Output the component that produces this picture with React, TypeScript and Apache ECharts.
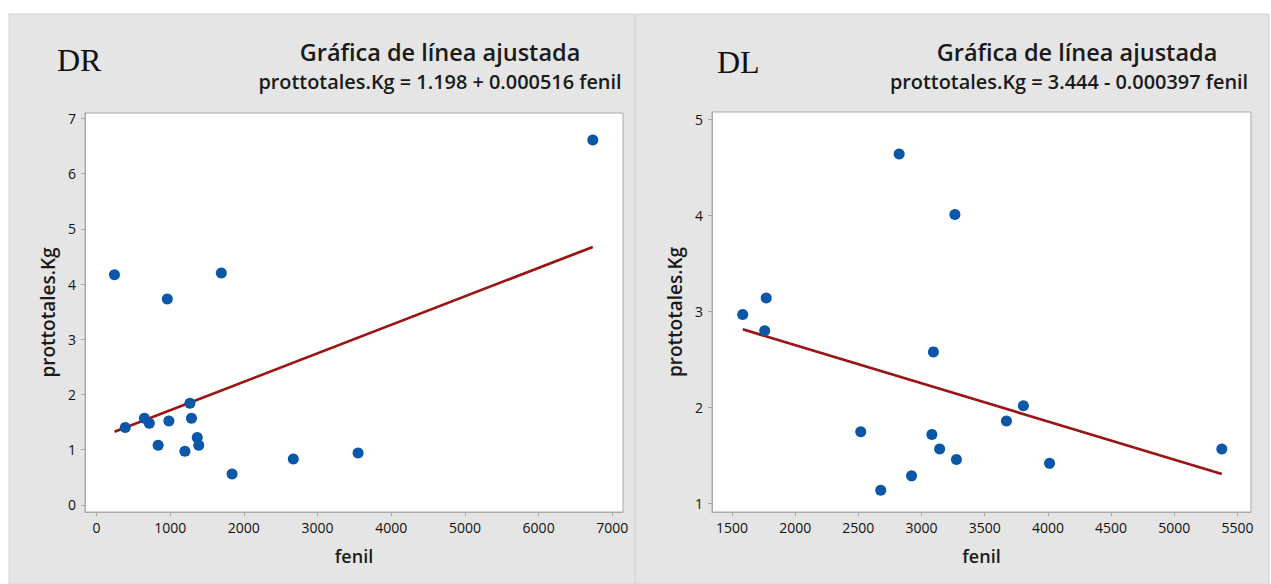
import React, { useEffect, useRef } from "react";
import * as echarts from "echarts";

// DR panel data
const drFenil = [244, 390, 650, 717, 837, 961, 982, 1200, 1268, 1289, 1367, 1388, 1694, 1840, 2671, 3550, 6735];
const drProt = [4.17, 1.40, 1.57, 1.48, 1.08, 3.73, 1.52, 0.97, 1.84, 1.57, 1.22, 1.08, 4.20, 0.56, 0.83, 0.94, 6.61];
const drFitX = [244, 6735];
const drFitY = [1.324, 4.673];
const drXTicks = [0, 1000, 2000, 3000, 4000, 5000, 6000, 7000];
const drYTicks = [0, 1, 2, 3, 4, 5, 6, 7];

// DL panel data
const dlFenil = [1585, 1759, 1771, 2519, 2677, 2823, 2921, 3082, 3094, 3143, 3264, 3276, 3672, 3806, 4013, 5376];
const dlProt = [2.97, 2.80, 3.14, 1.75, 1.14, 4.64, 1.29, 1.72, 2.58, 1.57, 4.01, 1.46, 1.86, 2.02, 1.42, 1.57];
const dlFitX = [1585, 5376];
const dlFitY = [2.815, 1.310];
const dlXTicks = [1500, 2000, 2500, 3000, 3500, 4000, 4500, 5000, 5500];
const dlYTicks = [1, 2, 3, 4, 5];

const titleText = "Gráfica de línea ajustada";
const drEquation = "prottotales.Kg = 1.198 + 0.000516 fenil";
const dlEquation = "prottotales.Kg = 3.444 - 0.000397 fenil";
const xName = "fenil";
const yName = "prottotales.Kg";

const FONT = "'Open Sans', 'Noto Sans', sans-serif";
const BG = "#e5e5e5";
const BOX = "#a9a9a9";
const DOT = "#0a56a8";
const LINE = "#9b1414";

function zip(a: number[], b: number[]) {
  return a.map((v, i) => [v, b[i]]);
}

const plain = (v: number) => String(v);

function xAxis(gridIndex: number, min: number, max: number, ticks: number[]) {
  return {
    type: "value",
    gridIndex,
    min,
    max,
    name: xName,
    nameLocation: "middle",
    nameGap: 35,
    nameTextStyle: { fontFamily: FONT, fontSize: 18, fontWeight: 600, color: "#1a1a1a" },
    axisLine: { show: true, onZero: false, lineStyle: { color: BOX, width: 1 } },
    axisTick: { show: true, length: 4, customValues: ticks, lineStyle: { color: BOX } },
    axisLabel: { customValues: ticks, formatter: plain, margin: 8, fontFamily: FONT, fontSize: 14, color: "#111" },
    splitLine: { show: false },
  };
}

function yAxis(gridIndex: number, min: number, max: number, ticks: number[]) {
  return {
    type: "value",
    gridIndex,
    min,
    max,
    name: yName,
    nameLocation: "middle",
    nameGap: 28,
    nameRotate: 90,
    nameTextStyle: { fontFamily: FONT, fontSize: 19, fontWeight: 600, color: "#1a1a1a" },
    axisLine: { show: true, onZero: false, lineStyle: { color: BOX, width: 1 } },
    axisTick: { show: true, length: 4, customValues: ticks, lineStyle: { color: BOX } },
    axisLabel: { customValues: ticks, formatter: plain, margin: 9, fontFamily: FONT, fontSize: 14, color: "#111" },
    splitLine: { show: false },
  };
}

export default function App() {
  const ref = useRef<HTMLDivElement>(null);
  useEffect(() => {
    if (!ref.current) return;
    const chart = echarts.init(ref.current, null, { renderer: "svg" });
    const textStyleT = { fontFamily: FONT, fill: "#1a1a1a" };
    chart.setOption({
      animation: false,
      backgroundColor: "#ffffff",
      graphic: [
        { type: "rect", z: -10, shape: { x: 9, y: 14, width: 626, height: 570 }, style: { fill: BG, stroke: "#d4d4d4", lineWidth: 1 } },
        { type: "rect", z: -10, shape: { x: 636, y: 14, width: 633, height: 570 }, style: { fill: BG, stroke: "#d4d4d4", lineWidth: 1 } },
        { type: "text", x: 57, y: 60, style: { text: "DR", font: "32px 'Liberation Serif', 'DejaVu Serif', serif", fill: "#111", textVerticalAlign: "middle" } },
        { type: "text", x: 717, y: 62, style: { text: "DL", font: "32px 'Liberation Serif', 'DejaVu Serif', serif", fill: "#111", textVerticalAlign: "middle" } },
        { type: "text", x: 440, y: 52, style: { ...textStyleT, text: titleText, fontSize: 23.5, fontWeight: 600, textAlign: "center", textVerticalAlign: "middle" } },
        { type: "text", x: 440, y: 81, style: { ...textStyleT, text: drEquation, fontSize: 19.9, fontWeight: 600, textAlign: "center", textVerticalAlign: "middle" } },
        { type: "text", x: 1077, y: 52, style: { ...textStyleT, text: titleText, fontSize: 23.5, fontWeight: 600, textAlign: "center", textVerticalAlign: "middle" } },
        { type: "text", x: 1069, y: 81, style: { ...textStyleT, text: dlEquation, fontSize: 19.9, fontWeight: 600, textAlign: "center", textVerticalAlign: "middle" } },
      ],
      grid: [
        { left: 85, top: 113, width: 538, height: 399, show: true, backgroundColor: "#ffffff", borderColor: BOX, borderWidth: 1 },
        { left: 712, top: 112, width: 539, height: 400, show: true, backgroundColor: "#ffffff", borderColor: BOX, borderWidth: 1 },
      ],
      xAxis: [xAxis(0, -156, 7145, drXTicks), xAxis(1, 1342, 5607, dlXTicks)],
      yAxis: [yAxis(0, -0.13, 7.1, drYTicks), yAxis(1, 0.914, 5.076, dlYTicks)],
      series: [
        { type: "line", xAxisIndex: 0, yAxisIndex: 0, data: zip(drFitX, drFitY), showSymbol: false, symbol: "none", lineStyle: { color: LINE, width: 2.7 }, z: 2 },
        { type: "scatter", xAxisIndex: 0, yAxisIndex: 0, data: zip(drFenil, drProt), symbolSize: 11, itemStyle: { color: DOT, opacity: 1 }, z: 3 },
        { type: "line", xAxisIndex: 1, yAxisIndex: 1, data: zip(dlFitX, dlFitY), showSymbol: false, symbol: "none", lineStyle: { color: LINE, width: 2.7 }, z: 2 },
        { type: "scatter", xAxisIndex: 1, yAxisIndex: 1, data: zip(dlFenil, dlProt), symbolSize: 11, itemStyle: { color: DOT, opacity: 1 }, z: 3 },
      ],
    });
    return () => chart.dispose();
  }, []);
  return (
    <div style={{ position: "absolute", left: 0, top: 0, width: 1271, height: 584 }}>
      <div ref={ref} style={{ width: 1271, height: 584 }} />
    </div>
  );
}
